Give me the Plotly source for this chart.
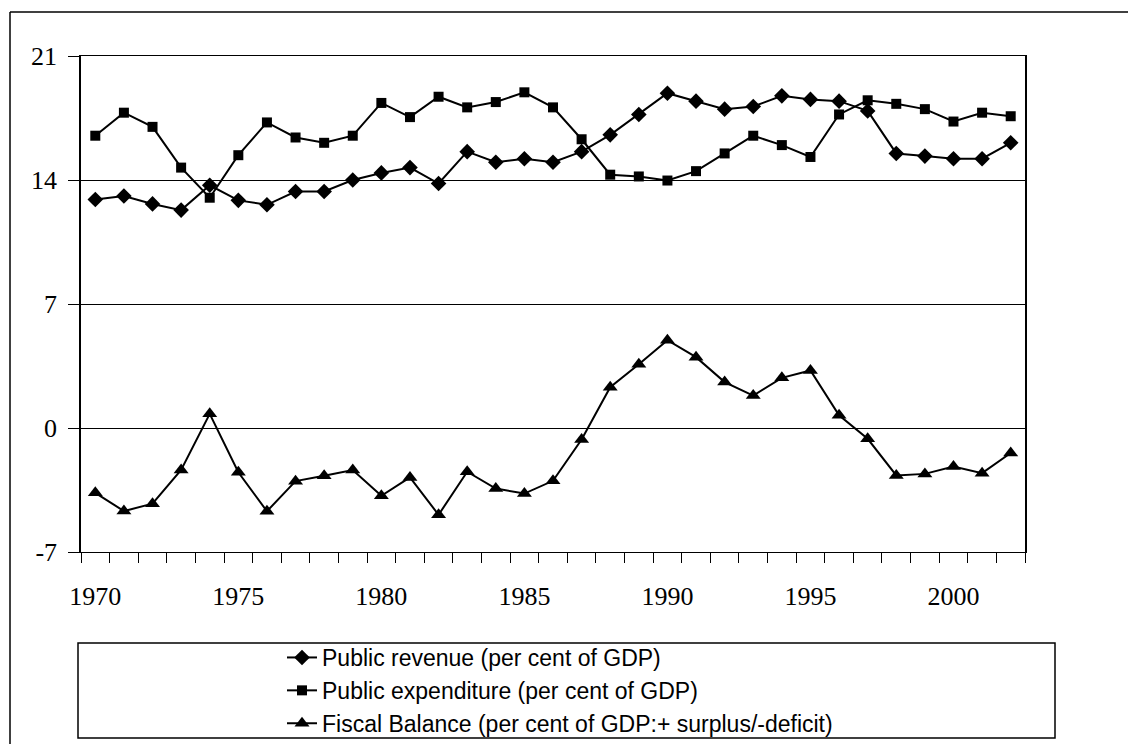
import plotly.graph_objects as go

years = [1970, 1971, 1972, 1973, 1974, 1975, 1976, 1977, 1978, 1979,
         1980, 1981, 1982, 1983, 1984, 1985, 1986, 1987, 1988, 1989,
         1990, 1991, 1992, 1993, 1994, 1995, 1996, 1997, 1998, 1999,
         2000, 2001, 2002]

revenue = [12.9, 13.1, 12.65, 12.3, 13.7, 12.85, 12.6, 13.35, 13.35, 14.0,
           14.4, 14.7, 13.8, 15.6, 15.0, 15.2, 15.0, 15.6, 16.55, 17.7,
           18.9, 18.45, 18.0, 18.15, 18.75, 18.55, 18.45, 17.9, 15.5, 15.35,
           15.2, 15.2, 16.1]

expenditure = [16.5, 17.8, 17.0, 14.7, 13.0, 15.4, 17.25, 16.4, 16.1, 16.5,
               18.35, 17.55, 18.7, 18.1, 18.4, 18.95, 18.1, 16.3, 14.3, 14.2,
               13.97, 14.5, 15.5, 16.5, 15.97, 15.3, 17.7, 18.5, 18.3, 18.0,
               17.3, 17.8, 17.6]

balance = [-3.66, -4.69, -4.27, -2.37, 0.8, -2.5, -4.7, -3.0, -2.7, -2.37,
           -3.83, -2.79, -4.9, -2.47, -3.42, -3.7, -2.98, -0.65, 2.3, 3.6,
           4.96, 4.0, 2.59, 1.83, 2.83, 3.25, 0.72, -0.61, -2.68, -2.59,
           -2.17, -2.55, -1.41]

names = ["Public revenue (per cent of GDP)",
         "Public expenditure (per cent of GDP)",
         "Fiscal Balance (per cent of GDP:+ surplus/-deficit)"]

y_ticks = [-7, 0, 7, 14, 21]
y_tick_labels = ["-7", "0", "7", "14", "21"]
x_label_years = [1970, 1975, 1980, 1985, 1990, 1995, 2000]

W, H = 1128, 744
L, R, T, B = 81, 1025, 56, 552


def px_x(p):
    return (p - L) / (R - L)


def px_y(p):
    return (B - p) / (B - T)


fig = go.Figure()
fig.add_trace(go.Scatter(x=years, y=revenue, name=names[0], mode="lines+markers",
                         line=dict(color="black", width=2),
                         marker=dict(symbol="diamond", size=12, color="black")))
fig.add_trace(go.Scatter(x=years, y=expenditure, name=names[1], mode="lines+markers",
                         line=dict(color="black", width=2),
                         marker=dict(symbol="square", size=10, color="black")))
fig.add_trace(go.Scatter(x=years, y=balance, name=names[2], mode="lines+markers",
                         line=dict(color="black", width=2),
                         marker=dict(symbol="triangle-up", size=13, color="black")))

fig.update_layout(
    width=W, height=H, autosize=False,
    margin=dict(l=L, r=W - R, t=T, b=H - B, autoexpand=False),
    paper_bgcolor="white", plot_bgcolor="white",
    font=dict(family="Liberation Serif", color="black"),
    showlegend=True,
    legend=dict(x=px_x(282), y=px_y(636), xanchor="left", yanchor="top",
                bgcolor="rgba(0,0,0,0)", borderwidth=0,
                font=dict(family="Liberation Sans", size=23, color="black"),
                tracegroupgap=0),
    xaxis=dict(range=[years[0] - 0.5, years[-1] + 0.5],
               tickvals=x_label_years, ticktext=[str(v) for v in x_label_years],
               ticks="", showgrid=False, zeroline=False,
               showline=True, linecolor="black", linewidth=1, mirror=True,
               tickfont=dict(family="Liberation Serif", size=26, color="black"),
               ticklabelstandoff=21,
               minor=dict(tickvals=[y - 0.5 for y in years] + [years[-1] + 0.5],
                          ticks="outside", ticklen=10, tickcolor="black",
                          tickwidth=1, showgrid=False)),
    yaxis=dict(range=[y_ticks[0], y_ticks[-1]], tickvals=y_ticks,
               ticktext=y_tick_labels,
               ticks="outside", ticklen=11, tickcolor="black", tickwidth=1,
               showgrid=True, gridcolor="black", gridwidth=1, zeroline=False,
               showline=True, linecolor="black", linewidth=1.5, mirror=True,
               tickfont=dict(family="Liberation Serif", size=26, color="black"),
               ticklabelstandoff=6),
    shapes=[
        # outer chart frame (top and left edges)
        dict(type="line", xref="paper", yref="paper", x0=px_x(10), x1=px_x(W),
             y0=px_y(12), y1=px_y(12), line=dict(color="black", width=1.5)),
        dict(type="line", xref="paper", yref="paper", x0=px_x(10), x1=px_x(10),
             y0=px_y(12), y1=px_y(H), line=dict(color="black", width=1.5)),
        # legend box
        dict(type="rect", xref="paper", yref="paper", x0=px_x(78), x1=px_x(1055),
             y0=px_y(643), y1=px_y(738), line=dict(color="black", width=1.5),
             fillcolor="rgba(0,0,0,0)"),
    ],
)

fig.write_html("out.html")
